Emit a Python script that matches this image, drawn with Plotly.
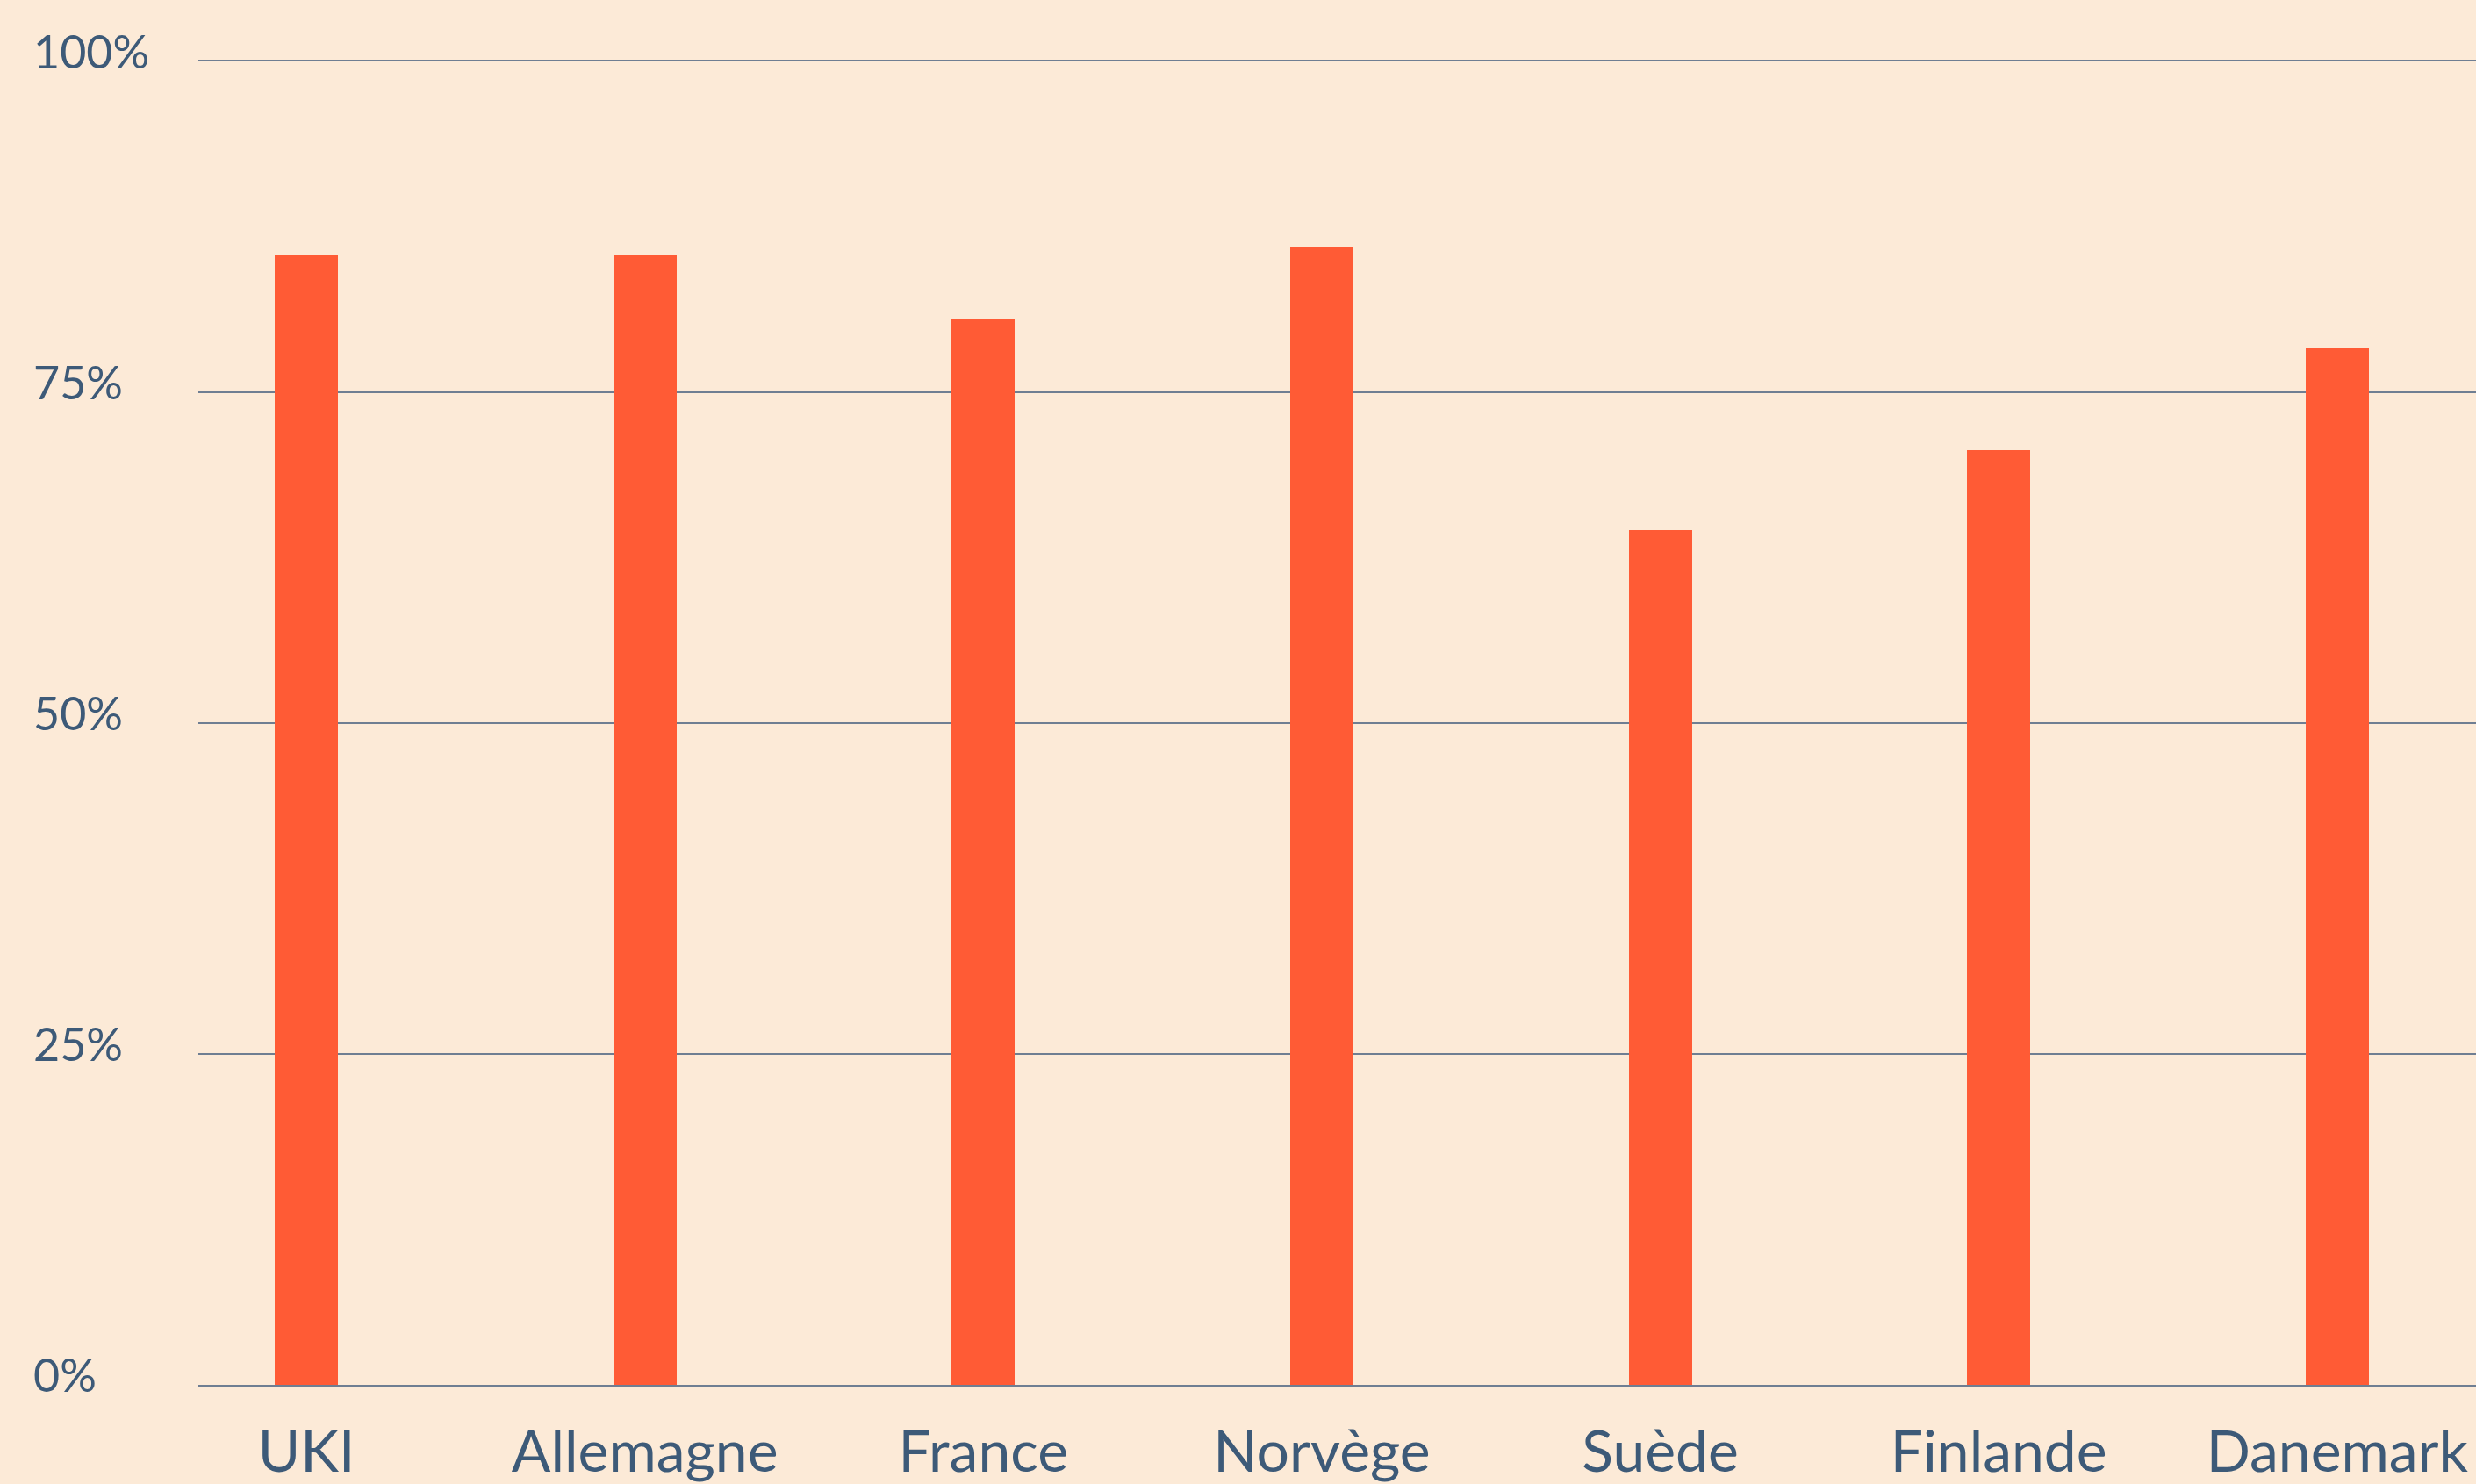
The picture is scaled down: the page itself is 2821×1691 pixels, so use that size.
import plotly.graph_objects as go

categories = ["UKI", "Allemagne", "France", "Norvège", "Suède", "Finlande", "Danemark"]
values = [85.4, 85.4, 80.5, 86.0, 64.6, 70.6, 78.4]
y_ticks = [0, 25, 50, 75, 100]
y_tick_labels = ["0%", "25%", "50%", "75%", "100%"]

BG = "#FCEAD7"
BAR = "#FF5B35"
TEXT = "#3D5A78"
GRID = "#6F7E92"
FONT = "Lato"

W, H = 2821, 1691
L, R, T, B = 226, 0, 70, 109

fig = go.Figure(
    go.Bar(
        x=categories,
        y=values,
        marker=dict(color=BAR, line=dict(width=0)),
        width=0.187,
        hoverinfo="x+y",
    )
)

fig.update_layout(
    width=W,
    height=H,
    margin=dict(l=L, r=R, t=T, b=B, pad=0),
    paper_bgcolor=BG,
    plot_bgcolor=BG,
    showlegend=False,
    font=dict(family=FONT, color=TEXT),
    bargap=0,
)

fig.update_xaxes(
    type="category",
    range=[-0.319, 6.41],
    showgrid=False,
    showline=True,
    mirror=True,
    linecolor=GRID,
    linewidth=2,
    zeroline=False,
    ticks="",
    tickfont=dict(family=FONT, size=66, color=TEXT),
    ticklabelstandoff=18,
)

fig.update_yaxes(
    range=[0, 100],
    tickvals=y_ticks,
    showticklabels=False,
    showgrid=True,
    gridcolor=GRID,
    gridwidth=2,
    zeroline=False,
    showline=False,
    ticks="",
)

plot_w = W - L - R
for v, lab in zip(y_ticks, y_tick_labels):
    fig.add_annotation(
        x=-(L - 36) / plot_w,
        xref="paper",
        y=v,
        yref="y",
        text=lab,
        showarrow=False,
        xanchor="left",
        yanchor="middle",
        yshift=12,
        font=dict(family=FONT, size=52, color=TEXT),
    )

fig.write_html(
    "out.html",
    config={"displayModeBar": False},
    post_script="document.body.style.margin='0';document.body.style.background='%s';" % BG,
)
